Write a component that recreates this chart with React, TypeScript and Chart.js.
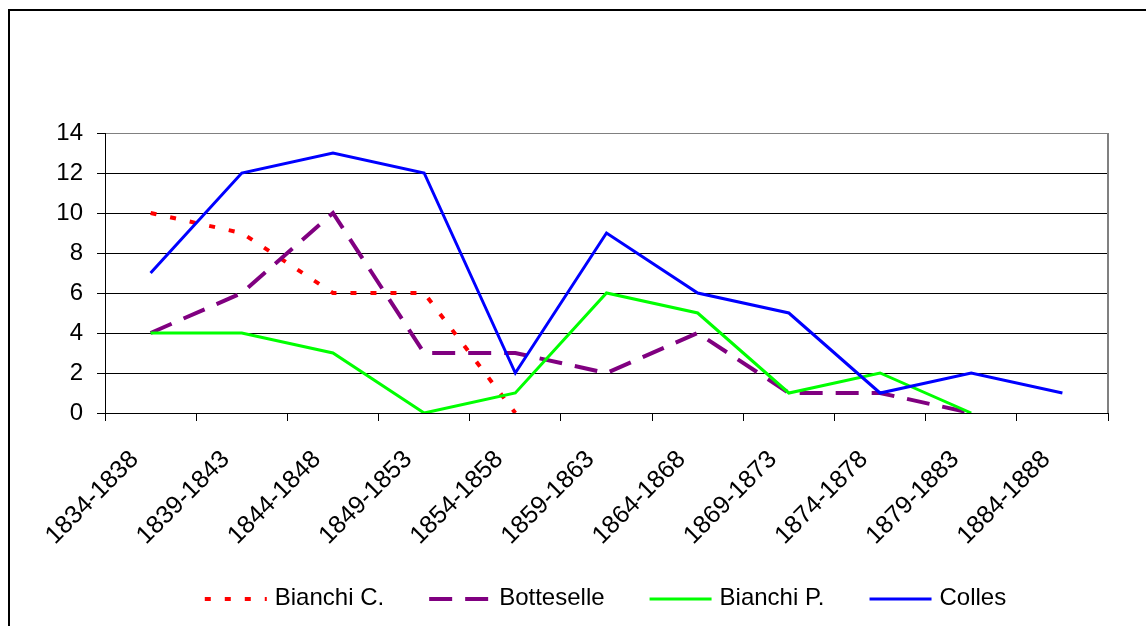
import React, { useEffect, useRef } from 'react';
import { Chart, registerables } from 'chart.js';

Chart.register(...registerables);

const categories = [
  '1834-1838', '1839-1843', '1844-1848', '1849-1853', '1854-1858', '1859-1863',
  '1864-1868', '1869-1873', '1874-1878', '1879-1883', '1884-1888',
];
const bianchiC = [10, 9, 6, 6, 0, null, null, null, null, null, null];
const botteselle = [4, 6, 10, 3, 3, 2, 4, 1, 1, 0, null];
const bianchiP = [4, 4, 3, 0, 1, 6, 5, 1, 2, 0, null];
const colles = [7, 12, 13, 12, 2, 9, 6, 5, 1, 2, 1];
const yMin = 0;
const yMax = 14;
const yStep = 2;

const FONT = '"Liberation Sans", Arial, Helvetica, sans-serif';

const framePlugin = {
  id: 'frameAndLegend',
  afterDraw(chart: any) {
    const ctx = chart.ctx as CanvasRenderingContext2D;
    const area = chart.chartArea;
    const w = chart.width;
    const h = chart.height;
    ctx.save();
    // outer frame (top & left visible)
    ctx.fillStyle = '#000';
    ctx.fillRect(0, 1, w, 2);
    ctx.fillRect(0, 1, 2, h);
    // plot border (grey) top and right
    ctx.fillStyle = '#808080';
    ctx.fillRect(area.left + 1, Math.round(area.top), area.right - area.left, 1);
    ctx.fillRect(Math.round(area.right) - 1, Math.round(area.top), 2, area.bottom - area.top);

    // legend
    ctx.font = '24px ' + FONT;
    ctx.textBaseline = 'middle';
    ctx.textAlign = 'left';
    const items = chart.data.datasets.map((ds: any) => ({
      label: ds.label as string,
      color: ds.borderColor as string,
      dash: (ds.borderDash || []) as number[],
      width: ds.borderWidth as number,
      tw: ctx.measureText(ds.label).width,
    }));
    const sample = 62;
    const gap = 8;
    const spacing = 45;
    const total =
      items.reduce((s: number, it: any) => s + sample + gap + it.tw, 0) + spacing * (items.length - 1);
    let x = (area.left + area.right) / 2 - total / 2 - 1;
    const y = 590;
    for (const it of items) {
      ctx.beginPath();
      ctx.setLineDash(it.dash);
      ctx.lineDashOffset = 0;
      ctx.lineWidth = it.width;
      ctx.strokeStyle = it.color;
      ctx.lineCap = 'butt';
      ctx.moveTo(x, y + 1);
      ctx.lineTo(x + sample, y + 1);
      ctx.stroke();
      ctx.setLineDash([]);
      ctx.fillStyle = '#000';
      ctx.fillText(it.label, x + sample + gap, y);
      x += sample + gap + it.tw + spacing;
    }
    ctx.restore();
  },
};

export default function App() {
  const ref = useRef<HTMLCanvasElement | null>(null);

  useEffect(() => {
    document.documentElement.style.overflow = 'hidden';
    document.body.style.overflow = 'hidden';
    if (!ref.current) return;
    const chart = new Chart(ref.current, {
      type: 'line',
      data: {
        labels: categories,
        datasets: [
          {
            label: 'Bianchi C.',
            data: bianchiC,
            borderColor: '#FF0000',
            backgroundColor: '#FF0000',
            borderWidth: 4,
            borderDash: [6, 14],
            order: 4,
          },
          {
            label: 'Botteselle',
            data: botteselle,
            borderColor: '#800080',
            backgroundColor: '#800080',
            borderWidth: 4,
            borderDash: [23, 13],
            order: 3,
          },
          {
            label: 'Bianchi P.',
            data: bianchiP,
            borderColor: '#00FF00',
            backgroundColor: '#00FF00',
            borderWidth: 3,
            order: 2,
          },
          {
            label: 'Colles',
            data: colles,
            borderColor: '#0000FF',
            backgroundColor: '#0000FF',
            borderWidth: 3,
            order: 1,
          },
        ] as any,
      },
      options: {
        animation: false,
        responsive: false,
        maintainAspectRatio: false,
        spanGaps: false,
        elements: {
          point: { radius: 0, hoverRadius: 0 },
          line: { tension: 0, borderCapStyle: 'butt', borderJoinStyle: 'miter', fill: false },
        },
        layout: { padding: { left: 0, right: 38, top: 125, bottom: 0 } },
        plugins: {
          legend: { display: false },
          tooltip: { enabled: false },
          title: { display: false },
        },
        scales: {
          x: {
            type: 'category',
            offset: true,
            grid: {
              display: true,
              offset: true,
              drawOnChartArea: false,
              drawTicks: true,
              tickLength: 8,
              color: '#000',
              lineWidth: 1,
            },
            border: { display: true, color: '#000', width: 1 },
            ticks: {
              autoSkip: false,
              maxRotation: 45,
              minRotation: 45,
              padding: 24,
              labelOffset: -16,
              color: '#000',
              font: { family: FONT, size: 25 },
            },
            afterFit: (scale: any) => {
              scale.height = 213;
            },
          },
          y: {
            min: yMin,
            max: yMax,
            grid: {
              display: true,
              drawOnChartArea: true,
              drawTicks: true,
              tickLength: 8,
              color: '#000',
              lineWidth: 1,
            },
            border: { display: true, color: '#000', width: 1 },
            ticks: {
              stepSize: yStep,
              padding: 14,
              color: '#000',
              font: { family: FONT, size: 24 },
            },
            afterFit: (scale: any) => {
              scale.width = 97;
            },
          },
        },
      },
      plugins: [framePlugin],
    });
    return () => chart.destroy();
  }, []);

  return (
    <div style={{ position: 'fixed', left: 8, top: 8, width: 1138, height: 618, background: '#fff' }}>
      <canvas ref={ref} width={1138} height={618} style={{ display: 'block' }} />
    </div>
  );
}
